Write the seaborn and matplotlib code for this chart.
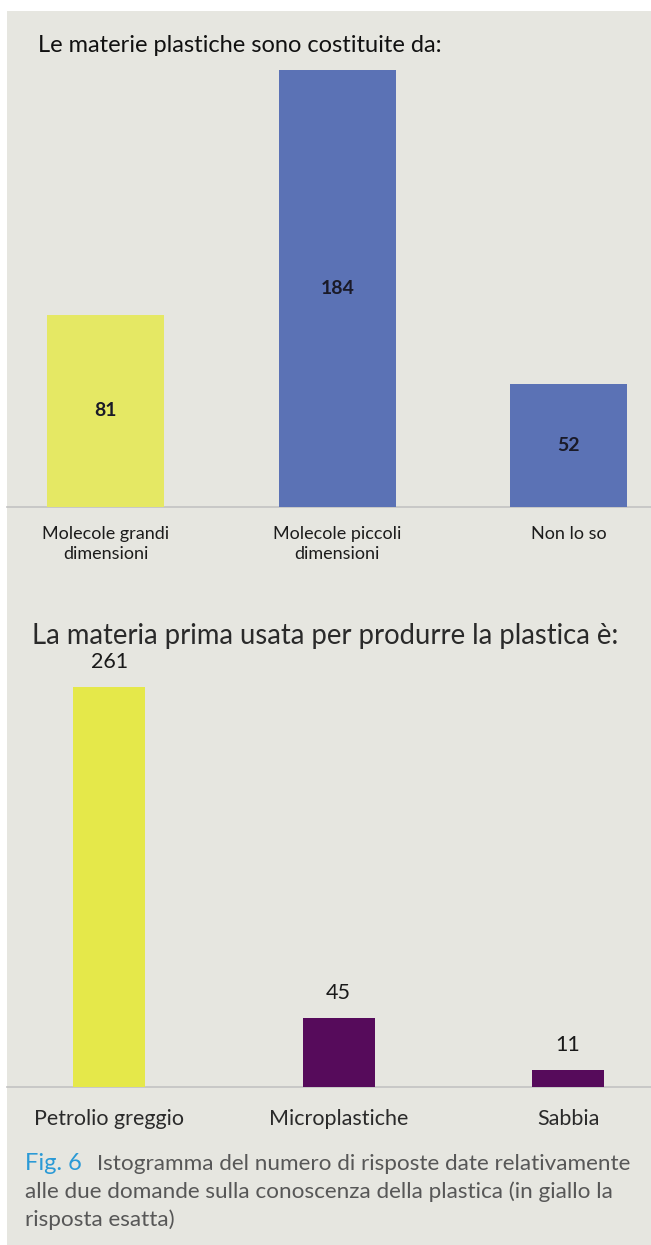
import matplotlib
matplotlib.use("Agg")
import matplotlib.pyplot as plt
from matplotlib.patches import Rectangle
import seaborn as sns

# Domanda 1
cat_1 = ["Molecole grandi\ndimensioni", "Molecole piccoli\ndimensioni", "Non lo so"]
val_1 = [81, 184, 52]
title_1 = "Le materie plastiche sono costituite da:"

# Domanda 2
cat_2 = ["Petrolio greggio", "Microplastiche", "Sabbia"]
val_2 = [261, 45, 11]
title_2 = "La materia prima usata per produrre la plastica è:"

caption_fig = "Fig. 6"
caption_text = ["Istogramma del numero di risposte date relativamente",
                "alle due domande sulla conoscenza della plastica (in giallo la",
                "risposta esatta)"]

W, H = 651, 1245
bg = "#e6e6e0"
yellow_1 = "#e5e864"
yellow_2 = "#e5e84a"
blue = "#5b72b5"
purple = "#560b5b"
text_col = "#1c1c1c"

sns.set_theme(style="white")
plt.rcParams["font.family"] = ["Lato", "DejaVu Sans"]

fig = plt.figure(figsize=(W / 100, H / 100), dpi=100, facecolor="white")
fig.patches.append(Rectangle((7 / W, 0), 1, 1 - 11 / H, transform=fig.transFigure,
                             facecolor=bg, edgecolor="none", zorder=-10))


def px_axes(left, top, right, bottom):
    # posizione degli assi in pixel
    return fig.add_axes([left / W, 1 - bottom / H, (right - left) / W, (bottom - top) / H])


def style_axes(ax, ymax):
    ax.set_facecolor("none")
    ax.patch.set_alpha(0)
    ax.set_ylim(0, ymax)
    ax.set_yticks([])
    ax.set_xlabel("")
    ax.set_ylabel("")
    for s in ["top", "left", "right"]:
        ax.spines[s].set_visible(False)
    ax.spines["bottom"].set_color("#c2c2c2")
    ax.spines["bottom"].set_linewidth(1.2)
    ax.spines["bottom"].set_zorder(0.5)
    ax.tick_params(axis="x", length=0)


# Grafico 1
ax1 = px_axes(7, 70, 651, 507)
sns.barplot(x=cat_1, y=val_1, hue=cat_1, palette=[yellow_1, blue, blue],
            width=0.506, legend=False, saturation=1, edgecolor="none", ax=ax1)
style_axes(ax1, max(val_1))
ax1.set_xlim(-0.428, 2.357)
ax1.tick_params(axis="x", pad=14, labelsize=13, labelcolor=text_col)
for lab in ax1.get_xticklabels():
    lab.set_linespacing(1.25)
for c in ax1.containers:
    ax1.bar_label(c, label_type="center", fontsize=14, fontweight="bold", color="#1a1a28")
fig.text(38 / W, 1 - 45 / H, title_1, fontsize=17, color="#111111", va="center", ha="left")

# Grafico 2
ax2 = px_axes(7, 687, 651, 1087)
sns.barplot(x=cat_2, y=val_2, hue=cat_2, palette=[yellow_2, purple, purple],
            width=0.314, legend=False, saturation=1, edgecolor="none", ax=ax2)
style_axes(ax2, max(val_2))
ax2.set_xlim(-0.447, 2.362)
ax2.tick_params(axis="x", pad=16, labelsize=15.5, labelcolor="#2a2a2a")
for c in ax2.containers:
    ax2.bar_label(c, padding=11, fontsize=15.5, color="#1a1a1a")
fig.text(32 / W, 1 - 636 / H, title_2, fontsize=19.8, color="#2a2a2a", va="center", ha="left")

# Didascalia
cap_kw = dict(fontsize=16.2, color="#575757", va="center", ha="left")
fig.text(25 / W, 1 - 1164 / H, caption_fig, fontsize=17, color="#2b9ad6", va="center", ha="left")
fig.text(97 / W, 1 - 1164 / H, caption_text[0], **cap_kw)
fig.text(25 / W, 1 - 1192 / H, caption_text[1], **cap_kw)
fig.text(25 / W, 1 - 1220 / H, caption_text[2], **cap_kw)

fig.savefig("out.png", dpi=100, facecolor="white")
